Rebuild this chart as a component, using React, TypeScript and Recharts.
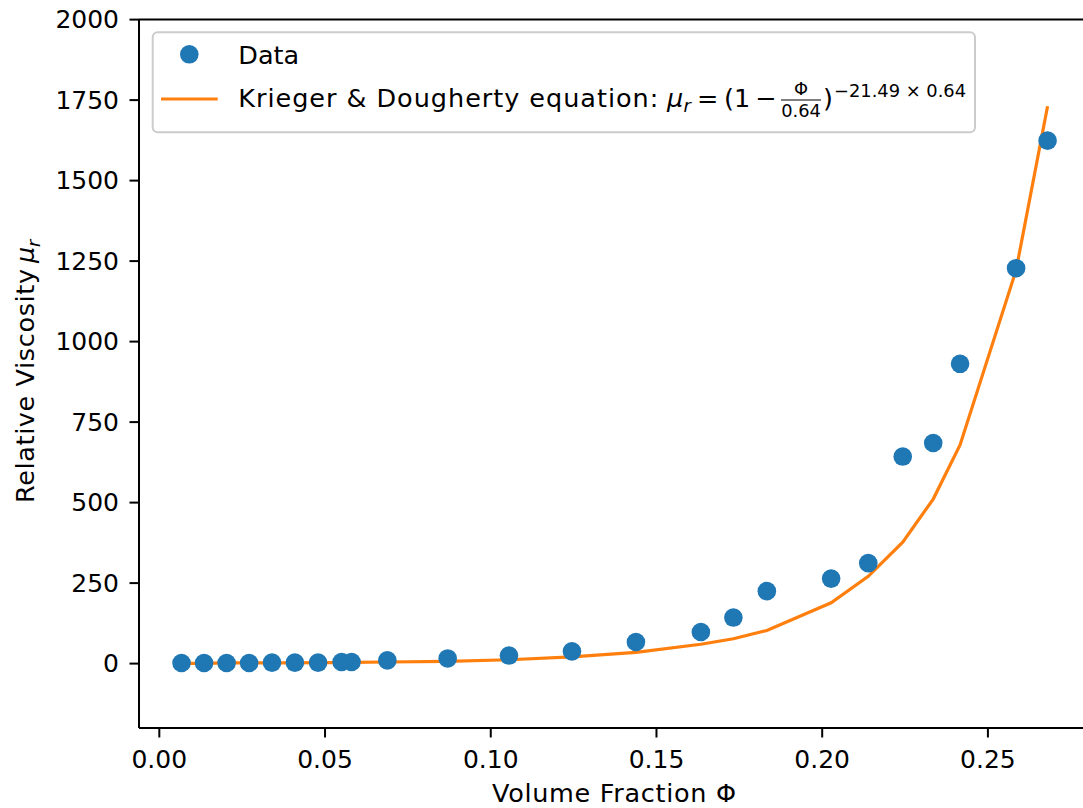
import React from 'react';
import { ComposedChart, Scatter, Line, XAxis, YAxis, ReferenceLine, Legend, Label } from 'recharts';

const phi = [0.0067, 0.0135, 0.0203, 0.0271, 0.034, 0.0409, 0.0479, 0.055, 0.058, 0.0688, 0.087, 0.1055, 0.1245, 0.1438, 0.1634, 0.1732, 0.1833, 0.2027, 0.2139, 0.2243, 0.2335, 0.2416, 0.2585, 0.268];
const viscosityData = [2, 2, 2, 2, 3, 3, 3, 5, 5, 10, 16, 25, 38, 67, 98, 143, 225, 264, 312, 643, 685, 931, 1228, 1624];
const kdFit = [1, 1, 2, 2, 2, 2, 3, 3, 4, 5, 7, 12, 21, 35, 60, 77, 103, 189, 271, 377, 511, 679, 1222, 1731];
const xTicks = [0, 0.05, 0.1, 0.15, 0.2, 0.25];
const yTicks = [0, 250, 500, 750, 1000, 1250, 1500, 1750, 2000];

const scatterData = phi.map((x, i) => ({ x, y: viscosityData[i] }));
const lineData = phi.map((x, i) => ({ x, y: kdFit[i] }));

const FONT = "'DejaVu Sans', sans-serif";
const BLUE = '#1f77b4';
const ORANGE = '#ff7f0e';
const LF = 25.5;
const LS = LF * 0.7;

const Dot = (props: any) => {
  const { cx, cy } = props;
  if (cx == null || cy == null) return null;
  return <circle cx={cx} cy={cy} r={9.3} fill={BLUE} />;
};

const XLabel = () => (
  <text x={614} y={802} textAnchor="middle" fontSize={25.5} fontFamily={FONT} fill="#000" textLength={244} lengthAdjust="spacing">
    Volume Fraction Φ
  </text>
);

const YLabel = () => (
  <g transform="rotate(-90 34 374)">
    <text x={34 - 129} y={374} fontSize={25.5} fontFamily={FONT} fill="#000" textLength={234} lengthAdjust="spacing">
      Relative Viscosity
    </text>
    <text x={34 + 111} y={374} fontSize={25.5} fontFamily={FONT} fill="#000" fontStyle="italic">μ</text>
    <text x={34 + 127} y={379.5} fontSize={17.85} fontFamily={FONT} fill="#000" fontStyle="italic">r</text>
  </g>
);

const LegendContent = () => (
  <svg width={1100} height={150} style={{ display: 'block' }} fontFamily={FONT}>
    <rect x={152.7} y={32.3} width={822.3} height={100} rx={5} ry={5} fill="#fff" fillOpacity={0.8} stroke="#cccccc" strokeWidth={2} />
    <circle cx={189.3} cy={54.3} r={9.3} fill={BLUE} />
    <text x={238.3} y={64} fontSize={LF} fill="#000">Data</text>
    <line x1={161} y1={99} x2={217.7} y2={99} stroke={ORANGE} strokeWidth={3.2} />
    <text x={238.3} y={107} fontSize={LF} fill="#000" textLength={420} lengthAdjust="spacing">Krieger &amp; Dougherty equation:</text>
    <text x={667} y={107} fontSize={LF} fill="#000" fontStyle="italic">μ</text>
    <text x={683.5} y={112} fontSize={LS} fill="#000" fontStyle="italic">r</text>
    <text x={697} y={107} fontSize={LF} fill="#000">=</text>
    <text x={724} y={107} fontSize={LF} fill="#000">(1</text>
    <text x={755} y={107} fontSize={LF} fill="#000">−</text>
    <text x={801} y={95} fontSize={LS} textAnchor="middle" fill="#000">Φ</text>
    <line x1={781} y1={100} x2={821} y2={100} stroke="#000" strokeWidth={1.2} />
    <text x={801} y={117} fontSize={LS} textAnchor="middle" fill="#000">0.64</text>
    <text x={823} y={107} fontSize={LF} fill="#000">)</text>
    <text x={834} y={96.5} fontSize={LS} fill="#000">−21.49 × 0.64</text>
  </svg>
);

export default function App() {
  return (
    <div style={{ position: 'absolute', left: 0, top: 0, width: 1083, height: 808, overflow: 'hidden', background: '#fff', fontFamily: FONT }}>
      <ComposedChart width={1100} height={808} margin={{ top: 19.6, right: 11, bottom: 0, left: 0 }}>
        <XAxis
          type="number"
          dataKey="x"
          domain={[-0.00613, 0.2805]}
          ticks={xTicks}
          tickFormatter={(v: number) => v.toFixed(2)}
          allowDataOverflow
          height={80}
          tickSize={9.5}
          tickMargin={12.5}
          tick={{ fill: '#000', fontSize: 25, fontFamily: FONT }}
          axisLine={{ stroke: '#000', strokeWidth: 2 }}
          tickLine={{ stroke: '#000', strokeWidth: 2 }}
        >
          <Label content={XLabel} />
        </XAxis>
        <YAxis
          type="number"
          dataKey="y"
          domain={[-200, 2000]}
          ticks={yTicks}
          allowDataOverflow
          width={139}
          tickSize={9.5}
          tickMargin={10.5}
          tick={{ fill: '#000', fontSize: 25, fontFamily: FONT }}
          axisLine={{ stroke: '#000', strokeWidth: 2 }}
          tickLine={{ stroke: '#000', strokeWidth: 2 }}
        >
          <Label content={YLabel} />
        </YAxis>
        <ReferenceLine y={2000} stroke="#000" strokeWidth={2} ifOverflow="visible" />
        <Scatter data={scatterData} dataKey="y" fill={BLUE} shape={Dot} isAnimationActive={false} />
        <Line data={lineData} dataKey="y" type="linear" stroke={ORANGE} strokeWidth={3.2} dot={false} activeDot={false} isAnimationActive={false} />
        <Legend layout="vertical" align="center" verticalAlign="middle" wrapperStyle={{ left: 0, top: 0, width: 1100, height: 150 }} content={LegendContent} />
      </ComposedChart>
    </div>
  );
}
